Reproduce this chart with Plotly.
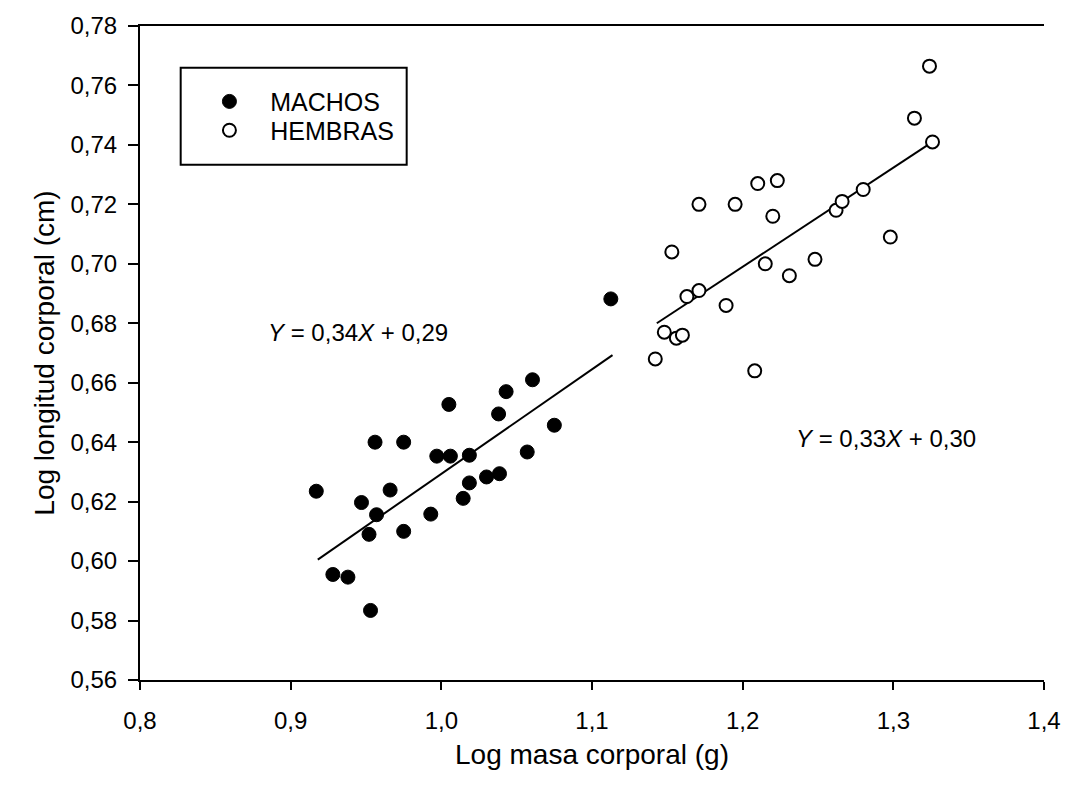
import plotly.graph_objects as go

# ---- data ----
machos_x = [0.917, 0.928, 0.938, 0.947, 0.952, 0.953, 0.956, 0.957, 0.966, 0.975,
            0.975, 0.993, 0.997, 1.005, 1.006, 1.0145, 1.0186, 1.0186, 1.030, 1.0386,
            1.038, 1.043, 1.057, 1.0605, 1.075, 1.1125]
machos_y = [0.6235, 0.5955, 0.5946, 0.6197, 0.609, 0.5834, 0.640, 0.6156, 0.6239, 0.640,
            0.610, 0.6158, 0.6353, 0.6527, 0.6353, 0.6211, 0.6263, 0.6356, 0.6283, 0.6294,
            0.6495, 0.657, 0.6367, 0.661, 0.6457, 0.6882]

hembras_x = [1.142, 1.148, 1.153, 1.156, 1.160, 1.163, 1.171, 1.171, 1.189, 1.195,
             1.208, 1.210, 1.215, 1.220, 1.223, 1.231, 1.248, 1.262, 1.266, 1.280,
             1.298, 1.314, 1.324, 1.326]
hembras_y = [0.668, 0.677, 0.704, 0.675, 0.676, 0.689, 0.691, 0.720, 0.686, 0.720,
             0.664, 0.727, 0.700, 0.716, 0.728, 0.696, 0.7015, 0.718, 0.721, 0.725,
             0.709, 0.749, 0.7665, 0.741]

fit_machos_x = [0.918, 1.1136]
fit_machos_y = [0.6005, 0.6693]
fit_hembras_x = [1.143, 1.326]
fit_hembras_y = [0.680, 0.741]

x_ticks = [0.8, 0.9, 1.0, 1.1, 1.2, 1.3, 1.4]
y_ticks = [0.56, 0.58, 0.60, 0.62, 0.64, 0.66, 0.68, 0.70, 0.72, 0.74, 0.76, 0.78]

FONT = "Liberation Sans, Arial, Helvetica, sans-serif"
GAP = "\u00a0\u00a0\u00a0"

fig = go.Figure()

fig.add_trace(go.Scatter(x=fit_machos_x, y=fit_machos_y, mode="lines",
                         line=dict(color="black", width=2), showlegend=False,
                         hoverinfo="skip"))
fig.add_trace(go.Scatter(x=fit_hembras_x, y=fit_hembras_y, mode="lines",
                         line=dict(color="black", width=2), showlegend=False,
                         hoverinfo="skip"))

fig.add_trace(go.Scatter(x=machos_x, y=machos_y, mode="markers", name=GAP + "MACHOS",
                         legend="legend",
                         marker=dict(symbol="circle", size=14, color="black",
                                     line=dict(color="black", width=1))))
fig.add_trace(go.Scatter(x=hembras_x, y=hembras_y, mode="markers", name=GAP + "HEMBRAS",
                         legend="legend2",
                         marker=dict(symbol="circle", size=13, color="white",
                                     line=dict(color="black", width=2))))

fig.add_annotation(x=0.8836, y=0.6769, xref="x", yref="y", xanchor="left",
                   yanchor="middle", showarrow=False,
                   text="<i>Y</i> = 0,34<i>X</i> + 0,29",
                   font=dict(family=FONT, size=24, color="black"))
fig.add_annotation(x=1.2342, y=0.6414, xref="x", yref="y", xanchor="left",
                   yanchor="middle", showarrow=False,
                   text="<i>Y</i> = 0,33<i>X</i> + 0,30",
                   font=dict(family=FONT, size=24, color="black"))

# legend frame
fig.add_shape(type="rect", xref="paper", yref="paper",
              x0=0.045, x1=0.295, y0=0.788, y1=0.936,
              line=dict(color="black", width=2), fillcolor="rgba(0,0,0,0)")

leg_common = dict(xanchor="left", yanchor="middle", bgcolor="rgba(0,0,0,0)",
                  borderwidth=0, itemwidth=30,
                  font=dict(family=FONT, size=25, color="black"))

fig.update_layout(
    width=1073, height=788,
    margin=dict(l=140, r=21, t=23, b=108),
    paper_bgcolor="white", plot_bgcolor="white",
    separators=", ",
    font=dict(family=FONT, size=24, color="black"),
    showlegend=True,
    legend=dict(x=0.0768, y=0.8843, **leg_common),
    legend2=dict(x=0.0768, y=0.8402, **leg_common),
    xaxis=dict(range=[0.8, 1.4], tickvals=x_ticks, tickformat=".1f",
               showgrid=False, zeroline=False, showline=True, linecolor="black",
               linewidth=2, mirror=True, ticks="outside", ticklen=8, tickwidth=2,
               tickcolor="black", ticklabelstandoff=10,
               title=dict(text="Log masa corporal (g)", standoff=12,
                          font=dict(family=FONT, size=28))),
    yaxis=dict(range=[0.56, 0.78], tickvals=y_ticks, tickformat=".2f",
               showgrid=False, zeroline=False, showline=True, linecolor="black",
               linewidth=2, mirror=False, ticks="outside", ticklen=10, tickwidth=2,
               tickcolor="black", ticklabelstandoff=6,
               title=dict(text="Log longitud corporal (cm)", standoff=8,
                          font=dict(family=FONT, size=28))),
)

fig.write_html("out.html")
